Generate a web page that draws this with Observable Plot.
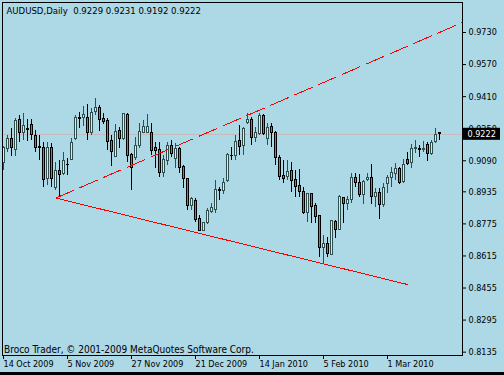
<!DOCTYPE html>
<html><head><meta charset="utf-8">
<script src="https://cdn.jsdelivr.net/npm/d3@7"></script>
<script src="https://cdn.jsdelivr.net/npm/@observablehq/plot@0.6"></script>
<style>
html,body{margin:0;padding:0;background:#ADD8E6;}
#chart{width:504px;height:372px;border-bottom:3px solid #000;background:#ADD8E6;overflow:hidden;}
svg{display:block;}
</style></head><body><div id="chart"></div>
<script>
const titleText = "AUDUSD,Daily  0.9229 0.9231 0.9192 0.9222";
const copyrightText = "Broco Trader, © 2001-2009 MetaQuotes Software Corp.";

const open = [0.9081,0.9151,0.9201,0.9146,0.9291,0.9231,0.9246,0.9266,0.9216,0.9158,
0.9156,0.8997,0.9156,0.8952,0.9041,0.9026,0.9071,0.9096,0.9201,0.9301,
0.9301,0.9301,0.9231,0.9331,0.9351,0.9296,0.9286,0.9191,0.9111,0.9241,
0.9201,0.9316,0.9121,0.9106,0.9166,0.9231,0.9231,0.9231,0.9156,0.9146,
0.9031,0.9091,0.9166,0.9101,0.9151,0.9061,0.8997,0.8862,0.8887,0.8797,
0.8742,0.8777,0.8832,0.8842,0.8943,0.8937,0.8987,0.9116,0.9116,0.9191,
0.9166,0.9276,0.9291,0.9206,0.9226,0.9311,0.9201,0.9256,0.9231,0.9106,
0.9016,0.9011,0.9041,0.8992,0.8962,0.8932,0.8827,0.8922,0.8862,0.8812,
0.8657,0.8677,0.8622,0.8782,0.8747,0.8902,0.8872,0.8892,0.9006,0.8977,
0.8917,0.8992,0.9006,0.8907,0.8927,0.8867,0.8972,0.9006,0.9026,0.9051,
0.8982,0.9096,0.9081,0.9151,0.9151,0.9145,0.9171,0.9126,0.9186,0.9229];
const high = [0.9161,0.9216,0.9251,0.9301,0.9316,0.9326,0.9296,0.9296,0.9241,0.9216,
0.9181,0.9181,0.9176,0.9081,0.9091,0.9131,0.9101,0.9201,0.9316,0.9331,
0.9361,0.9371,0.9351,0.9401,0.9366,0.9326,0.9301,0.9216,0.9271,0.9256,
0.9326,0.9326,0.9126,0.9206,0.9276,0.9291,0.9321,0.9276,0.9181,0.9181,
0.9116,0.9181,0.9191,0.9176,0.9156,0.9066,0.9002,0.8907,0.8902,0.8817,
0.8782,0.8852,0.8877,0.8992,0.8957,0.9002,0.9126,0.9156,0.9216,0.9266,
0.9256,0.9326,0.9306,0.9256,0.9326,0.9321,0.9276,0.9276,0.9236,0.9116,
0.9091,0.9091,0.9081,0.9041,0.9046,0.8957,0.8922,0.8927,0.8877,0.8817,
0.8717,0.8707,0.8792,0.8792,0.8917,0.8907,0.8912,0.9026,0.9026,0.9021,
0.8992,0.9026,0.9071,0.8952,0.8952,0.8977,0.9016,0.9056,0.9076,0.9056,
0.9096,0.9131,0.9171,0.9191,0.9166,0.9186,0.9181,0.9191,0.9251,0.9231];
const low = [0.9041,0.9131,0.9111,0.9111,0.9181,0.9191,0.9186,0.9191,0.9131,0.9091,
0.8957,0.8967,0.8957,0.8942,0.8912,0.9016,0.9016,0.9091,0.9191,0.9251,
0.9261,0.9191,0.9216,0.9316,0.9236,0.9271,0.9141,0.9061,0.9106,0.9151,
0.9191,0.9081,0.8942,0.9091,0.9151,0.9226,0.9226,0.9116,0.9051,0.9006,
0.9006,0.9066,0.9106,0.9051,0.9026,0.8952,0.8842,0.8842,0.8782,0.8737,
0.8737,0.8772,0.8827,0.8827,0.8892,0.8922,0.8982,0.9091,0.9091,0.9116,
0.9116,0.9271,0.9166,0.9181,0.9216,0.9216,0.9166,0.9156,0.9066,0.8992,
0.8977,0.8992,0.8932,0.8907,0.8907,0.8822,0.8782,0.8777,0.8777,0.8607,
0.8577,0.8607,0.8617,0.8702,0.8742,0.8777,0.8842,0.8877,0.8957,0.8907,
0.8872,0.8987,0.8872,0.8857,0.8797,0.8857,0.8927,0.8957,0.8992,0.8972,
0.8977,0.9066,0.9051,0.9126,0.9106,0.9131,0.9086,0.9116,0.9176,0.9192];
const close = [0.9156,0.9201,0.9156,0.9286,0.9231,0.9261,0.9244,0.9221,0.9156,0.9156,
0.8992,0.9156,0.8997,0.9041,0.9021,0.9091,0.9069,0.9181,0.9301,0.9300,
0.9316,0.9231,0.9326,0.9351,0.9291,0.9281,0.9186,0.9136,0.9236,0.9201,
0.9321,0.9116,0.9056,0.9166,0.9236,0.9256,0.9256,0.9141,0.9141,0.9031,
0.9096,0.9166,0.9126,0.9151,0.9056,0.8997,0.8862,0.8897,0.8792,0.8742,
0.8777,0.8837,0.8852,0.8942,0.8941,0.8977,0.9121,0.9115,0.9186,0.9161,
0.9246,0.9291,0.9206,0.9231,0.9311,0.9226,0.9251,0.9231,0.9106,0.9011,
0.8997,0.9036,0.8987,0.8957,0.8932,0.8827,0.8922,0.8857,0.8807,0.8657,
0.8677,0.8627,0.8787,0.8747,0.8907,0.8872,0.8892,0.9006,0.8977,0.8917,
0.8982,0.9006,0.8907,0.8927,0.8867,0.8952,0.9006,0.9031,0.9051,0.8977,
0.9071,0.9076,0.9151,0.9152,0.9144,0.9147,0.9126,0.9181,0.9221,0.9222];

const dateTicks = [0, 16, 32, 48, 64, 80, 96];
const dateLabels = ["14 Oct 2009","5 Nov 2009","27 Nov 2009","21 Dec 2009","14 Jan 2010","5 Feb 2010","1 Mar 2010"];
const priceTicks = [0.9730,0.9570,0.9410,0.9250,0.9090,0.8935,0.8775,0.8615,0.8455,0.8295,0.8135];

// trend lines: [bar index, price]
const supportIdx = [13.1, 100.9];
const supportPrice = [0.8904, 0.8473];
const resistIdx = [13.1, 114.75];
const resistPrice = [0.8904, 0.9780];

const data = close.map((c, i) => ({i, o: open[i], h: high[i], l: low[i], c}));
const bulls = data.filter(d => d.c >= d.o);
const bears = data.filter(d => d.c < d.o);
const support = supportIdx.map((i, k) => ({i, p: supportPrice[k]}));
const resist = resistIdx.map((i, k) => ({i, p: resistPrice[k]}));
const lastClose = close[close.length - 1];

const xDomain = [-0.25, 114.75];
const yDomain = [0.81183, 0.98797];
const bullFill = "#EEEEA8", bullLine = "#2F4F4F", bearFill = "#808080", bearLine = "#000000";
const fmt = d3.format(".4f");

const chart = Plot.plot({
  width: 504, height: 372,
  marginLeft: 2, marginRight: 42, marginTop: 2, marginBottom: 17,
  style: {background: "#ADD8E6", fontFamily: "'DejaVu Sans Condensed','DejaVu Sans',sans-serif", fontSize: "9px", color: "#000", overflow: "visible"},
  x: {domain: xDomain, axis: null},
  y: {domain: yDomain, axis: null},
  marks: [
    Plot.ruleY([lastClose], {stroke: "#C4BCBC", shapeRendering: "crispEdges"}),
    Plot.ruleX(bulls, {x: "i", y1: "l", y2: "h", stroke: bullLine, shapeRendering: "crispEdges"}),
    Plot.ruleX(bears, {x: "i", y1: "l", y2: "h", stroke: bearLine, shapeRendering: "crispEdges"}),
    Plot.rect(bulls, {x1: d => d.i - 0.25, x2: d => d.i + 0.25, y1: "o", y2: "c", fill: bullFill, stroke: bullLine, shapeRendering: "crispEdges"}),
    Plot.rect(bears, {x1: d => d.i - 0.25, x2: d => d.i + 0.25, y1: "o", y2: "c", fill: bearFill, stroke: bearLine, shapeRendering: "crispEdges"}),
    Plot.line(support, {x: "i", y: "p", stroke: "#FF0000", strokeWidth: 1, shapeRendering: "crispEdges"}),
    Plot.line(resist, {x: "i", y: "p", stroke: "#FF0000", strokeWidth: 1, strokeDasharray: "19,7", shapeRendering: "crispEdges"}),
    Plot.frame({stroke: "#000", shapeRendering: "crispEdges"}),
    Plot.axisY({anchor: "right", ticks: priceTicks, tickFormat: fmt, tickSize: 3, tickPadding: 3, label: null, fontSize: 9}),
    Plot.axisX({anchor: "bottom", ticks: dateTicks, tickFormat: d => dateLabels[dateTicks.indexOf(d)], tickSize: 4, tickPadding: 1, textAnchor: "start", label: null, fontSize: 9}),
    Plot.rect([lastClose], {x1: xDomain[1] + 0.25, x2: xDomain[1] + 9.5, y1: d => d - 0.0030, y2: d => d + 0.0030, fill: "#000"}),
    Plot.text([lastClose], {x: xDomain[1] + 1.25, y: d => d, text: d => fmt(d), fill: "#fff", textAnchor: "start", fontSize: 9}),
    Plot.text([titleText], {text: d => d, frameAnchor: "top-left", textAnchor: "start", lineAnchor: "top", dx: 4, dy: 5, fontSize: 9.5}),
    Plot.text([copyrightText], {text: d => d, frameAnchor: "bottom-left", textAnchor: "start", lineAnchor: "bottom", dx: 1.5, dy: -3, fontSize: 10})
  ]
});
document.getElementById("chart").appendChild(chart);
</script>
</body></html>
